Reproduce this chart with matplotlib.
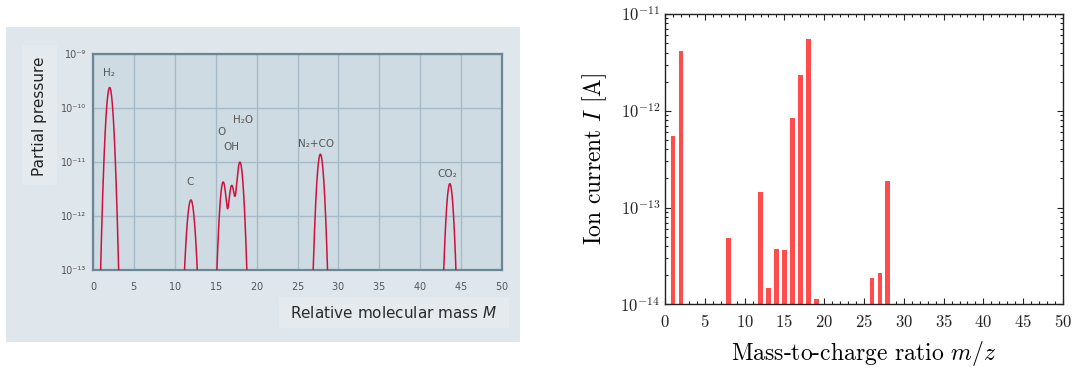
import numpy as np
import matplotlib
matplotlib.use("Agg")
import matplotlib.pyplot as plt
from matplotlib.patches import Rectangle
from matplotlib.ticker import FixedLocator, MultipleLocator, FuncFormatter, NullFormatter

plt.rcParams['mathtext.fontset'] = 'cm'
plt.rcParams['axes.formatter.use_mathtext'] = True

# ---------------- data: left panel (residual gas spectrum) ----------------
peak_mass = [2.0, 11.95, 15.9, 16.95, 17.95, 27.8, 43.65]
peak_pressure = [2.4e-10, 2.0e-12, 4.3e-12, 3.7e-12, 1.0e-11, 1.4e-11, 4.0e-12]
peak_sigma = [0.28, 0.32, 0.28, 0.28, 0.28, 0.28, 0.276]
left_labels = ["H\u2082", "C", "O", "OH", "H\u2082O", "N\u2082+CO", "CO\u2082"]
left_yticks = [1e-13, 1e-12, 1e-11, 1e-10, 1e-9]
left_ytick_labels = ["10\u207b\u00b9\u00b3", "10\u207b\u00b9\u00b2", "10\u207b\u00b9\u00b9",
                     "10\u207b\u00b9\u2070", "10\u207b\u2079"]

# ---------------- data: right panel (ion current bars) ----------------
mz = [1, 2, 8, 12, 13, 14, 15, 16, 17, 18, 19, 26, 27, 28]
ion_current = [5.5e-13, 4.1e-12, 4.9e-14, 1.45e-13, 1.47e-14, 3.7e-14, 3.6e-14,
               8.5e-13, 2.35e-12, 5.5e-12, 1.13e-14, 1.87e-14, 2.1e-14, 1.9e-13]
right_yticks = [1e-14, 1e-13, 1e-12, 1e-11]
right_yminor = [k * 10.0 ** e for e in (-14, -13, -12) for k in range(2, 10)]

W, H = 1076, 370
fig = plt.figure(figsize=(W / 100, H / 100), dpi=100)

def fx(px):
    return px / W

def fy(py):
    return 1 - py / H

# background panel for the left figure
fig.patches.append(Rectangle((fx(6), fy(342)), fx(520 - 6), (342 - 27) / H,
                             transform=fig.transFigure, facecolor="#dfe6ec",
                             edgecolor="none", zorder=-2))
# lighter label boxes
fig.patches.append(Rectangle((fx(22), fy(185)), fx(57 - 22), (185 - 45) / H,
                             transform=fig.transFigure, facecolor="#e5eaee",
                             edgecolor="none", zorder=-1))
fig.patches.append(Rectangle((fx(279), fy(328)), fx(509 - 279), (328 - 297) / H,
                             transform=fig.transFigure, facecolor="#e5eaee",
                             edgecolor="none", zorder=-1))

# ---------------- left axes ----------------
axL = fig.add_axes([fx(93.3), fy(270.3), fx(501.7 - 93.3), (270.3 - 54) / H])
axL.set_facecolor("#cfdbe2")
axL.set_yscale("log")
axL.set_xlim(0, 50)
axL.set_ylim(1e-13, 1e-9)

M = np.linspace(0, 50, 5001)
P = np.full_like(M, 1e-30)
for m0, p0, s0 in zip(peak_mass, peak_pressure, peak_sigma):
    P = P + p0 * np.exp(-(M - m0) ** 2 / (2 * s0 ** 2))
axL.plot(M, P, color="#cc1040", lw=1.1, zorder=3)

axL.xaxis.set_major_locator(MultipleLocator(5))
axL.yaxis.set_major_locator(FixedLocator(left_yticks))
axL.yaxis.set_minor_locator(FixedLocator([]))
axL.set_yticklabels(left_ytick_labels)
axL.grid(True, which="major", color="#a6bbc7", lw=1.0, zorder=1)
axL.set_axisbelow(True)
axL.tick_params(axis="both", which="both", length=0, labelsize=7, colors="#555555")
axL.tick_params(axis="x", pad=7)
axL.tick_params(axis="y", pad=5)
for sp in axL.spines.values():
    sp.set_color("#6b8795")
    sp.set_linewidth(1.6)

label_pos = [(1.9, 10 ** -9.35), (11.8, 10 ** -11.37), (15.7, 10 ** -10.45),
             (16.9, 10 ** -10.72), (18.3, 10 ** -10.22), (27.3, 10 ** -10.67),
             (43.3, 10 ** -11.22)]
for txt, (lx, ly) in zip(left_labels, label_pos):
    axL.text(lx, ly, txt, ha="center", va="center", fontsize=7.5, color="#555555", zorder=4)

fig.text(fx(39.5), fy(116), "Partial pressure", rotation=90, ha="center", va="center",
         fontsize=11, color="#222222")
fig.text(fx(394), fy(313), "Relative molecular mass $M$", ha="center", va="center",
         fontsize=11, color="#2a2a2a", math_fontfamily="dejavusans")

# ---------------- right axes ----------------
axR = fig.add_axes([fx(665), fy(304.3), fx(1063 - 665), (304.3 - 14) / H])
axR.bar(mz, ion_current, width=0.6, color="#ff4d4d", log=True, zorder=2)
axR.set_yscale("log")
axR.set_xlim(0, 50)
axR.set_ylim(1e-14, 1e-11)
axR.xaxis.set_major_locator(MultipleLocator(5))
axR.xaxis.set_minor_locator(MultipleLocator(1))
axR.yaxis.set_major_locator(FixedLocator(right_yticks))
axR.yaxis.set_minor_locator(FixedLocator(right_yminor))
axR.xaxis.set_major_formatter(FuncFormatter(lambda v, p: "$%d$" % int(round(v))))
axR.yaxis.set_major_formatter(FuncFormatter(lambda v, p: "$10^{%d}$" % int(round(np.log10(v)))))
axR.yaxis.set_minor_formatter(NullFormatter())
axR.tick_params(axis="both", which="both", direction="in", top=True, right=True,
                labelsize=12, colors="#222222", width=0.8)
axR.tick_params(axis="both", which="major", length=4.5)
axR.tick_params(axis="both", which="minor", length=2.5)
axR.tick_params(axis="x", pad=6)
for sp in axR.spines.values():
    sp.set_color("#222222")
    sp.set_linewidth(1.0)

axR.set_xlabel("Mass-to-charge ratio $m/z$", family="cmr10", fontsize=17, labelpad=6)
axR.set_ylabel("Ion current $I$ [A]", family="cmr10", fontsize=17, labelpad=8)

fig.savefig("out.png", dpi=100, facecolor="white")
